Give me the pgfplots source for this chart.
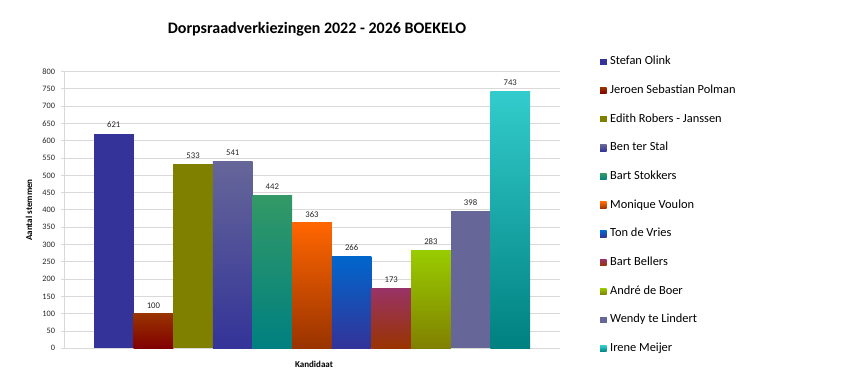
\documentclass[border=0pt]{standalone}
\usepackage{pgfplots}
\pgfplotsset{compat=1.18}
\usepackage{fontspec}
\setmainfont{Carlito}
\definecolor{cA}{HTML}{333399}
\definecolor{cBt}{HTML}{993300}\definecolor{cBb}{HTML}{800000}
\definecolor{cC}{HTML}{808000}
\definecolor{cDt}{HTML}{666699}\definecolor{cDb}{HTML}{333399}
\definecolor{cEt}{HTML}{339966}\definecolor{cEb}{HTML}{008080}
\definecolor{cFt}{HTML}{FF6600}\definecolor{cFb}{HTML}{993300}
\definecolor{cGt}{HTML}{0066CC}\definecolor{cGb}{HTML}{333399}
\definecolor{cHt}{HTML}{993366}\definecolor{cHb}{HTML}{993300}
\definecolor{cIt}{HTML}{99CC00}\definecolor{cIb}{HTML}{808000}
\definecolor{cJ}{HTML}{666699}
\definecolor{cKt}{HTML}{33CCCC}\definecolor{cKb}{HTML}{008080}
\definecolor{gridgray}{HTML}{D9D9D9}
\definecolor{txt}{HTML}{262626}
\pgfplotsset{
  mybar/.style={ybar, bar width=1, bar shift=0pt, draw=none,
    legend image code/.code={\path[##1,draw=none] (0pt,-3.25pt) rectangle (6.5pt,3.25pt); \path (10pt,0pt);}},
}
\begin{document}
\begin{tikzpicture}[x=1pt,y=1pt]
\useasboundingbox (0,0) rectangle (845,379);
\begin{axis}[
  /pgf/number format/assume math mode=true,
  at={(64pt,30.7pt)}, anchor=south west, scale only axis,
  width=496pt, height=276.6pt,
  xmin=-1.256, xmax=11.256, ymin=0, ymax=800,
  ytick={0,50,...,800}, xtick=\empty,
  ymajorgrids, grid style={draw=gridgray, line width=1pt},
  axis lines=left, axis line style={draw=gridgray, line width=1pt, -},
  ytick style={draw=gridgray, line width=1pt}, tick align=outside, major tick length=3pt,
  yticklabel style={font=\fontsize{8.3}{9}\selectfont, text=txt, xshift=-2.5pt},
  nodes near coords,
  nodes near coords style={font=\fontsize{8.7}{9}\selectfont, text=txt, yshift=2pt},
  title={Dorpsraadverkiezingen 2022 - 2026 BOEKELO},
  title style={at={(axis description cs:0.510,1.1327)}, anchor=center, font=\bfseries\fontsize{16}{18}\selectfont},
  xlabel={Kandidaat},
  xlabel style={at={(axis description cs:0.504,-0.0568)}, anchor=center, font=\bfseries\fontsize{9}{10}\selectfont},
  ylabel={Aantal stemmen},
  ylabel style={at={(axis description cs:-0.0706,0.5)}, anchor=center, font=\bfseries\fontsize{9}{10}\selectfont},
  legend cell align=left,
  legend style={draw=none, fill=none, inner sep=0pt, at={(axis description cs:1,1)}, anchor=north west,
    xshift=40pt, yshift=16pt, font=\fontsize{12.4}{14}\selectfont, row sep=16.67pt, column sep=0pt,
    nodes={inner sep=0pt, text height=9pt, text depth=3pt}},
]
\addplot[mybar, fill=cA] coordinates {(0,621)};
\addlegendentry{Stefan Olink}
\addplot[mybar, top color=cBt, bottom color=cBb] coordinates {(1,100)};
\addlegendentry{Jeroen Sebastian Polman}
\addplot[mybar, fill=cC] coordinates {(2,533)};
\addlegendentry{Edith Robers - Janssen}
\addplot[mybar, top color=cDt, bottom color=cDb] coordinates {(3,541)};
\addlegendentry{Ben ter Stal}
\addplot[mybar, top color=cEt, bottom color=cEb] coordinates {(4,442)};
\addlegendentry{Bart Stokkers}
\addplot[mybar, top color=cFt, bottom color=cFb] coordinates {(5,363)};
\addlegendentry{Monique Voulon}
\addplot[mybar, top color=cGt, bottom color=cGb] coordinates {(6,266)};
\addlegendentry{Ton de Vries}
\addplot[mybar, top color=cHt, bottom color=cHb] coordinates {(7,173)};
\addlegendentry{Bart Bellers}
\addplot[mybar, top color=cIt, bottom color=cIb] coordinates {(8,283)};
\addlegendentry{André de Boer}
\addplot[mybar, fill=cJ] coordinates {(9,398)};
\addlegendentry{Wendy te Lindert}
\addplot[mybar, top color=cKt, bottom color=cKb] coordinates {(10,743)};
\addlegendentry{Irene Meijer}
\end{axis}
\end{tikzpicture}
\end{document}
